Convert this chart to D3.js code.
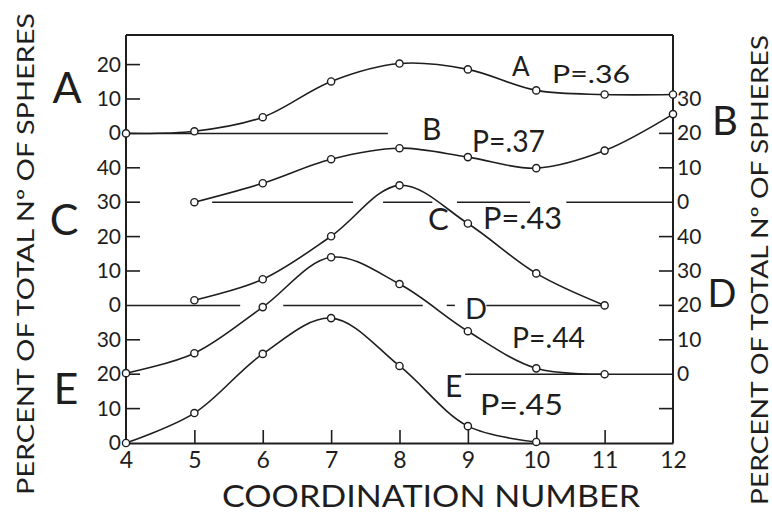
<!DOCTYPE html>
<html>
<head>
<meta charset="utf-8">
<script src="https://cdn.jsdelivr.net/npm/d3@7"></script>
<style>
  html, body { margin: 0; padding: 0; background: #fff; }
  svg { display: block; }
  text { font-family: Lato, "Open Sans", "DejaVu Sans", sans-serif; font-weight: 400; fill: #1e1e1e; }
</style>
</head>
<body>
<svg id="chart" width="772" height="513"></svg>
<script>
// Coordination-number distributions for five packings (percent of spheres)
const coordA = [4, 5, 6, 7, 8, 9, 10, 11, 12];
const pctA   = [0, 0.6, 4.7, 15.1, 20.3, 18.6, 12.5, 11.3, 11.3];
const coordB = [5, 6, 7, 8, 9, 10, 11, 12];
const pctB   = [0, 5.5, 12.5, 15.7, 13.1, 9.9, 15.0, 25.6];
const coordC = [5, 6, 7, 8, 9, 10, 11];
const pctC   = [1.5, 7.6, 20.1, 34.9, 23.8, 9.3, 0];
const coordD = [4, 5, 6, 7, 8, 9, 10, 11];
const pctD   = [0.3, 6.1, 19.5, 34.0, 26.2, 12.5, 1.7, 0];
const coordE = [4, 5, 6, 7, 8, 9, 10];
const pctE   = [0, 8.7, 25.9, 36.3, 22.4, 4.9, 0.3];

const curveNames = ["A", "B", "C", "D", "E"];
const porosity   = [".36", ".37", ".43", ".44", ".45"];
// vertical offset of each curve's zero, in percent units of the shared scale
const offsets    = [90, 70, 40, 20, 0];

const xTicks = [4, 5, 6, 7, 8, 9, 10, 11, 12];
const leftTicksA  = [0, 10, 20];
const leftTicksC  = [0, 10, 20, 30, 40];
const leftTicksE  = [0, 10, 20, 30];
const rightTicksB = [0, 10, 20, 30];
const rightTicksD = [0, 10, 20, 30, 40];

// zero reference lines (coordination-number extents, broken around labels)
const zeroSegA = [[4, 7.83]];
const zeroSegB = [[5.26, 7.32], [7.76, 8.48], [8.84, 9.91], [10.44, 12]];
const zeroSegC = [[4, 5.67], [6.30, 8.34], [8.69, 8.81], [9.27, 11]];
const zeroSegD = [[8.96, 12]];

const INK = "#1e1e1e";
const svg = d3.select("#chart");

const x = d3.scaleLinear().domain([4, 12]).range([126, 673]);
const y = d3.scaleLinear().domain([0, 118.6]).range([443, 35]);
const X0 = x.range()[0], X1 = x.range()[1];
const Y0 = y.range()[0], Y1 = y.range()[1];

const series = [
  { name: "A", off: offsets[0], xs: coordA, vs: pctA },
  { name: "B", off: offsets[1], xs: coordB, vs: pctB },
  { name: "C", off: offsets[2], xs: coordC, vs: pctC },
  { name: "D", off: offsets[3], xs: coordD, vs: pctD },
  { name: "E", off: offsets[4], xs: coordE, vs: pctE }
];

// frame: top border, left and right axes
svg.append("line").attr("x1", X0).attr("x2", X1).attr("y1", Y1).attr("y2", Y1)
  .attr("stroke", INK).attr("stroke-width", 2);
svg.append("line").attr("x1", X0).attr("x2", X0).attr("y1", Y1).attr("y2", Y0)
  .attr("stroke", INK).attr("stroke-width", 2);
svg.append("line").attr("x1", X1).attr("x2", X1).attr("y1", Y1).attr("y2", Y0)
  .attr("stroke", INK).attr("stroke-width", 2);

// bottom axis with inward ticks
const xAxis = d3.axisBottom(x).tickValues(xTicks).tickSizeInner(-13).tickSizeOuter(0)
  .tickPadding(9).tickFormat(d3.format("d"));
const gx = svg.append("g").attr("transform", `translate(0,${Y0})`).call(xAxis);
gx.select(".domain").attr("stroke", INK).attr("stroke-width", 2);
gx.selectAll(".tick line").attr("stroke", INK).attr("stroke-width", 1.6)
  .attr("display", d => (d === 4 || d === 12) ? "none" : null);
gx.selectAll(".tick text").attr("font-size", 23).attr("font-family", "Lato, sans-serif")
  .attr("font-weight", 400).attr("fill", INK);

// zero lines
function zeroLines(segs, off) {
  svg.append("g").selectAll("line").data(segs).join("line")
    .attr("x1", d => x(d[0])).attr("x2", d => x(d[1]))
    .attr("y1", y(off)).attr("y2", y(off))
    .attr("stroke", INK).attr("stroke-width", 1.5);
}
zeroLines(zeroSegA, offsets[0]);
zeroLines(zeroSegB, offsets[1]);
zeroLines(zeroSegC, offsets[2]);
zeroLines(zeroSegD, offsets[3]);

// side scales
function sideTicks(vals, off, side, skipTick) {
  const g = svg.append("g");
  const tk = vals.filter(v => v !== 0 && !(skipTick || []).includes(v));
  g.selectAll("line").data(tk).join("line")
    .attr("x1", side === "left" ? X0 : X1 - 14)
    .attr("x2", side === "left" ? X0 + 14 : X1)
    .attr("y1", v => y(off + v)).attr("y2", v => y(off + v))
    .attr("stroke", INK).attr("stroke-width", 1.6);
  g.selectAll("text").data(vals).join("text")
    .attr("x", side === "left" ? X0 - 5 : X1 + 4)
    .attr("y", v => y(off + v) + 7)
    .attr("text-anchor", side === "left" ? "end" : "start")
    .attr("font-size", 21)
    .text(v => v);
}
sideTicks(leftTicksA, offsets[0], "left");
sideTicks(leftTicksC, offsets[2], "left");
sideTicks(leftTicksE, offsets[4], "left");
sideTicks(rightTicksB, offsets[1], "right", [30]);
sideTicks(rightTicksD, offsets[3], "right");
// unlabeled right tick at E's 10
svg.append("line").attr("x1", X1 - 14).attr("x2", X1)
  .attr("y1", y(offsets[4] + 10)).attr("y2", y(offsets[4] + 10))
  .attr("stroke", INK).attr("stroke-width", 1.6);

// curves and markers
const line = d3.line().curve(d3.curveCatmullRom.alpha(0.5));
series.forEach(s => {
  const pts = s.xs.map((c, i) => [x(c), y(s.off + s.vs[i])]);
  svg.append("path").attr("d", line(pts)).attr("fill", "none")
    .attr("stroke", INK).attr("stroke-width", 1.6);
  svg.append("g").selectAll("circle").data(pts).join("circle")
    .attr("cx", d => d[0]).attr("cy", d => d[1]).attr("r", 3.6)
    .attr("fill", "#fff").attr("stroke", INK).attr("stroke-width", 1.4);
});

// large panel letters at the sides
const sideLetters = [
  { t: "A", x: 67, y: 103, a: "middle", fs: 43 },
  { t: "C", x: 64, y: 235, a: "middle", fs: 43 },
  { t: "E", x: 66, y: 404, a: "middle", fs: 43 },
  { t: "B", x: 725, y: 135, a: "middle", fs: 40 },
  { t: "D", x: 722, y: 307, a: "middle", fs: 38 }
];
svg.append("g").selectAll("text").data(sideLetters).join("text")
  .attr("x", d => d.x).attr("y", d => d.y).attr("text-anchor", d => d.a)
  .attr("font-size", d => d.fs).attr("font-weight", 300).text(d => d.t);

// in-plot curve labels and porosity values
const inLabels = [
  { t: curveNames[0], x: 512, y: 76, fs: 26 },
  { t: "P=" + porosity[0], x: 552, y: 83, fs: 25, w: 78 },
  { t: curveNames[1], x: 422, y: 140, fs: 30 },
  { t: "P=" + porosity[1], x: 472, y: 152, fs: 30, w: 73 },
  { t: curveNames[2], x: 428, y: 230, fs: 31 },
  { t: "P=" + porosity[2], x: 483, y: 229, fs: 31, w: 79 },
  { t: curveNames[3], x: 465, y: 319, fs: 29 },
  { t: "P=" + porosity[3], x: 512, y: 348, fs: 29, w: 73 },
  { t: curveNames[4], x: 445, y: 397, fs: 30 },
  { t: "P=" + porosity[4], x: 480, y: 415, fs: 28, w: 83 }
];
const il = svg.append("g").selectAll("text").data(inLabels).join("text")
  .attr("x", d => d.x).attr("y", d => d.y).attr("font-size", d => d.fs).text(d => d.t);
il.filter(d => d.w).attr("textLength", d => d.w).attr("lengthAdjust", "spacingAndGlyphs");

// axis titles
svg.append("text").attr("x", 431).attr("y", 507).attr("text-anchor", "middle")
  .attr("font-size", 31).attr("textLength", 418).attr("lengthAdjust", "spacingAndGlyphs")
  .text("COORDINATION NUMBER");
svg.append("text").attr("transform", "translate(34,254) rotate(-90)").attr("text-anchor", "middle")
  .attr("font-size", 24).attr("textLength", 482).attr("lengthAdjust", "spacingAndGlyphs")
  .text("PERCENT OF TOTAL Nº OF SPHERES");
svg.append("text").attr("transform", "translate(768,270) rotate(-90)").attr("text-anchor", "middle")
  .attr("font-size", 23).attr("textLength", 470).attr("lengthAdjust", "spacingAndGlyphs")
  .text("PERCENT OF TOTAL Nº OF SPHERES");
</script>
</body>
</html>
